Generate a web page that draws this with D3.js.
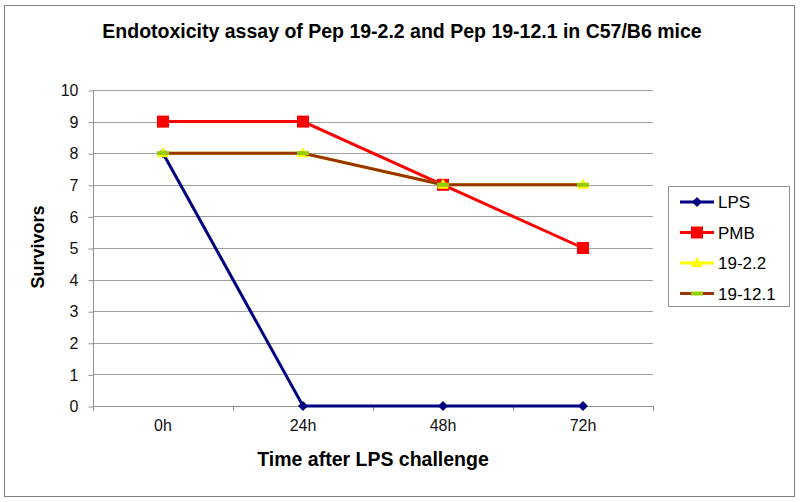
<!DOCTYPE html>
<html><head><meta charset="utf-8">
<script src="https://cdn.jsdelivr.net/npm/d3@7"></script>
<style>body{margin:0;background:#fff}svg{display:block;font-family:Arial,"Liberation Sans",sans-serif}</style>
</head><body><svg id="c" width="800" height="502"></svg>
<script>
const categories = ["0h","24h","48h","72h"];
const seriesNames = ["LPS","PMB","19-2.2","19-12.1"];
const lpsValues = [8,0,0,0];
const pmbValues = [9,9,7,5];
const pep22Values = [8,8,7,7];
const pep121Values = [8,8,7,7];
const yTicks = [0,1,2,3,4,5,6,7,8,9,10];
const titleText = "Endotoxicity assay of Pep 19-2.2 and Pep 19-12.1 in C57/B6 mice";
const xTitle = "Time after LPS challenge";
const yTitle = "Survivors";

const series = [
  {name:seriesNames[0], values:lpsValues, color:"#000080", marker:"diamond", mcolor:"#000080"},
  {name:seriesNames[1], values:pmbValues, color:"#FF0000", marker:"square", mcolor:"#FF0000"},
  {name:seriesNames[2], values:pep22Values, color:"#FFFF00", marker:"triangle", mcolor:"#FFFF00"},
  {name:seriesNames[3], values:pep121Values, color:"#993300", marker:"dash", mcolor:"#99CC00"}
];

const svg = d3.select("#c");
svg.append("rect").attr("x",4.5).attr("y",5.5).attr("width",790).attr("height",491)
  .attr("fill","#fff").attr("stroke","#808080").attr("stroke-width",1);

const L=93, R=653, T=90, B=406;
const x = d3.scaleBand().domain(categories).range([L,R]);
const y = d3.scaleLinear().domain([0,10]).range([B,T]);

// gridlines
svg.append("g").selectAll("line").data(yTicks.filter(d=>d>0)).join("line")
  .attr("x1",L).attr("x2",R).attr("y1",d=>Math.round(y(d))+0.5).attr("y2",d=>Math.round(y(d))+0.5)
  .attr("stroke","#a0a0a0").attr("stroke-width",1);

// y axis
const ya = svg.append("g").attr("transform",`translate(${L+0.5},0.5)`)
  .call(d3.axisLeft(y).tickValues(yTicks).tickSize(5).tickPadding(10).tickFormat(d3.format("d")));
ya.select(".domain").attr("stroke","#909090").attr("d",`M0,${T}V${B}`);
ya.selectAll(".tick line").attr("stroke","#909090");
ya.selectAll(".tick text").attr("font-size",16).attr("fill","#111").attr("font-family","Arial,'Liberation Sans',sans-serif");

// x axis
const xa = svg.append("g").attr("transform",`translate(0,${Math.round(B)+0.5})`)
  .call(d3.axisBottom(x).tickSize(0).tickPadding(13));
xa.select(".domain").attr("stroke","#909090").attr("d",`M${L},0H${R}`);
xa.selectAll(".tick text").attr("font-size",16).attr("fill","#111").attr("font-family","Arial,'Liberation Sans',sans-serif");
const bounds = categories.map(c=>x(c)).concat([R]);
svg.append("g").selectAll("line").data(bounds).join("line")
  .attr("x1",d=>Math.round(d)+0.5).attr("x2",d=>Math.round(d)+0.5)
  .attr("y1",B).attr("y2",B+5).attr("stroke","#909090");

const cx = c => x(c)+x.bandwidth()/2;
const line = d3.line().x((d,i)=>cx(categories[i])).y(d=>y(d));

function drawMarker(g, type, color, px, py){
  if(type==="diamond"){
    g.append("path").attr("d",`M${px},${py-5}L${px+5},${py}L${px},${py+5}L${px-5},${py}Z`).attr("fill",color);
  } else if(type==="square"){
    g.append("rect").attr("x",px-6).attr("y",py-6).attr("width",12).attr("height",12).attr("fill",color);
  } else if(type==="triangle"){
    g.append("path").attr("d",`M${px},${py-6}L${px+6},${py+4}L${px-6},${py+4}Z`).attr("fill",color);
  } else if(type==="dash"){
    g.append("rect").attr("x",px-6).attr("y",py-2).attr("width",12).attr("height",4).attr("fill",color);
  }
}

series.forEach(s=>{
  svg.append("path").datum(s.values).attr("d",line).attr("fill","none")
    .attr("stroke",s.color).attr("stroke-width",3);
  const g = svg.append("g");
  s.values.forEach((v,i)=>drawMarker(g, s.marker, s.mcolor, cx(categories[i]), y(v)));
});

// titles
svg.append("text").attr("x",402).attr("y",38).attr("text-anchor","middle")
  .attr("font-size",19.5).attr("font-weight","bold").attr("fill","#000").text(titleText);
svg.append("text").attr("x",373).attr("y",466).attr("text-anchor","middle")
  .attr("font-size",19.5).attr("font-weight","bold").attr("fill","#000").text(xTitle);
svg.append("text").attr("transform",`translate(44,247) rotate(-90)`).attr("text-anchor","middle")
  .attr("font-size",18).attr("font-weight","bold").attr("fill","#000").text(yTitle);

// legend
const lg = svg.append("g");
lg.append("rect").attr("x",668.5).attr("y",186.5).attr("width",121).attr("height",120)
  .attr("fill","#fff").attr("stroke","#909090");
series.forEach((s,i)=>{
  const ly = 202 + i*30.5;
  lg.append("line").attr("x1",680).attr("x2",714).attr("y1",ly).attr("y2",ly)
    .attr("stroke",s.color).attr("stroke-width",3);
  drawMarker(lg, s.marker, s.mcolor, 697, ly);
  lg.append("text").attr("x",718).attr("y",ly+6).attr("font-size",17).attr("fill","#000").text(s.name);
});
</script></body></html>
